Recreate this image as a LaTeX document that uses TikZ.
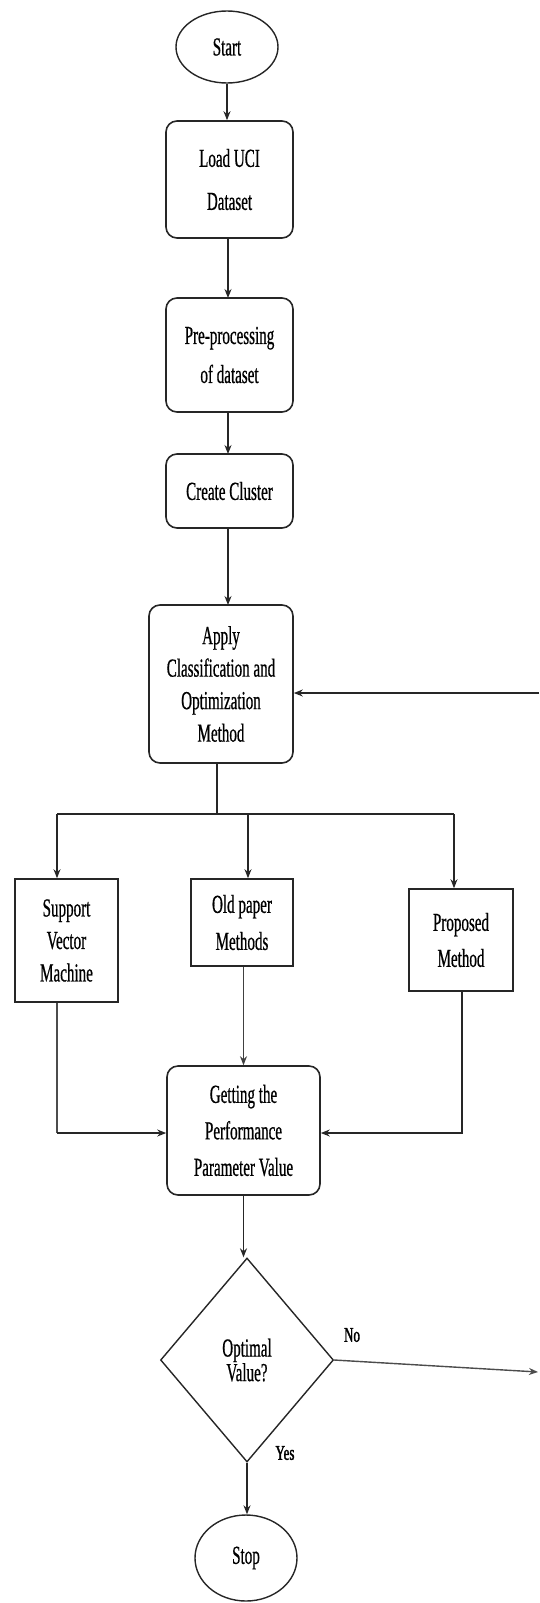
\documentclass[tikz,border=0pt]{standalone}
\usepackage{fontspec}
\setmainfont{Liberation Serif}[FakeStretch=0.58, FakeBold=0.6]
\newfontfamily\lblfont{Liberation Serif}[FakeStretch=0.62, FakeBold=1.6]
\usetikzlibrary{shapes.geometric,arrows.meta}
\tikzset{
  box/.style={draw=black!85, line width=1.6pt, rounded corners=11pt, align=center, inner sep=0pt},
  sqbox/.style={draw=black!85, line width=1.6pt, align=center, inner sep=0pt},
  term/.style={draw=black!85, line width=1.4pt, ellipse, align=center, inner sep=0pt},
  deci/.style={draw=black!85, line width=1.4pt, diamond, align=center, inner sep=0pt},
  conn/.style={draw=black!85, line width=1.4pt},
  arr/.style={conn, -{Stealth[length=9pt,width=7pt]}},
  lbl/.style={inner sep=0pt, font=\lblfont\fontsize{21}{24}\selectfont}
}
\begin{document}
\begin{tikzpicture}[x=1pt,y=-1pt]
\useasboundingbox (0,0) rectangle (539,1603);
\node[term, minimum width=102pt, minimum height=72pt, font=\fontsize{26}{30}\selectfont] (start) at (227,47) {Start};
\node[box, minimum width=127pt, minimum height=117pt, font=\fontsize{26}{43}\selectfont] (load) at (229.5,179.5) {Load UCI\\Dataset};
\node[box, minimum width=127pt, minimum height=114pt, font=\fontsize{26}{39}\selectfont] (pre) at (229.5,355) {Pre-processing\\of dataset};
\node[box, minimum width=127pt, minimum height=74pt, font=\fontsize{26}{30}\selectfont] (cluster) at (229.5,491) {Create Cluster};
\node[box, minimum width=144pt, minimum height=158pt, font=\fontsize{26}{32.5}\selectfont] (apply) at (221,684) {Apply\\Classification and\\Optimization\\Method};
\node[sqbox, minimum width=103pt, minimum height=123pt, font=\fontsize{26}{32.5}\selectfont] (svm) at (66.5,940.5) {Support\\Vector\\Machine};
\node[sqbox, minimum width=102pt, minimum height=87pt, font=\fontsize{26}{37}\selectfont] (old) at (242,922.5) {Old paper\\Methods};
\node[sqbox, minimum width=104pt, minimum height=102pt, font=\fontsize{26}{36}\selectfont] (prop) at (461,940) {Proposed\\Method};
\node[box, minimum width=153pt, minimum height=129pt, font=\fontsize{26}{36.5}\selectfont] (perf) at (243.5,1130.5) {Getting the\\Performance\\Parameter Value};
\node[deci, minimum width=173pt, minimum height=204pt, font=\fontsize{26}{23.5}\selectfont] (dec) at (247,1360) {Optimal\\Value?};
\node[term, minimum width=102pt, minimum height=86pt, font=\fontsize{26}{30}\selectfont] (stop) at (246,1558) {Stop};
\node[lbl] (no) at (352,1335) {No};
\node[lbl] (yes) at (285,1453) {Yes};
\coordinate (bl) at (57,814);
\coordinate (bm) at (248,814);
\coordinate (br) at (454,814);
\coordinate (noend) at (538,1372);
\coordinate (fb) at (539,693);
\draw[arr] (start.south) -- (start.south |- load.north);
\draw[arr] (228,238) -- (228,298);
\draw[arr] (228,412) -- (228,454);
\draw[arr] (228,528) -- (228,605);
\draw[conn] (217,763) -- (217,814);
\draw[conn] (bl) -- (br);
\draw[arr] (bl) -- (bl |- svm.north);
\draw[arr] (bm) -- (bm |- old.north);
\draw[arr] (br) -- (br |- prop.north);
\draw[conn, line width=1.1pt, draw=black!70] (bl |- svm.south) -- (57,1133);
\draw[arr] (57,1133) -- (perf.west |- 0,1133);
\draw[arr, line width=1.1pt, draw=black!75] (perf.north |- old.south) -- (perf.north);
\draw[arr] (462,991) -- (462,1133) -- (perf.east |- 0,1133);
\draw[arr] (perf.south) -- (perf.south |- dec.north);
\draw[arr] (dec.south) -- (dec.south |- stop.north);
\draw[arr, draw=black!70] (dec.east) -- (noend);
\draw[arr, line width=1.8pt] (fb) -- (fb -| apply.east);
\end{tikzpicture}
\end{document}
